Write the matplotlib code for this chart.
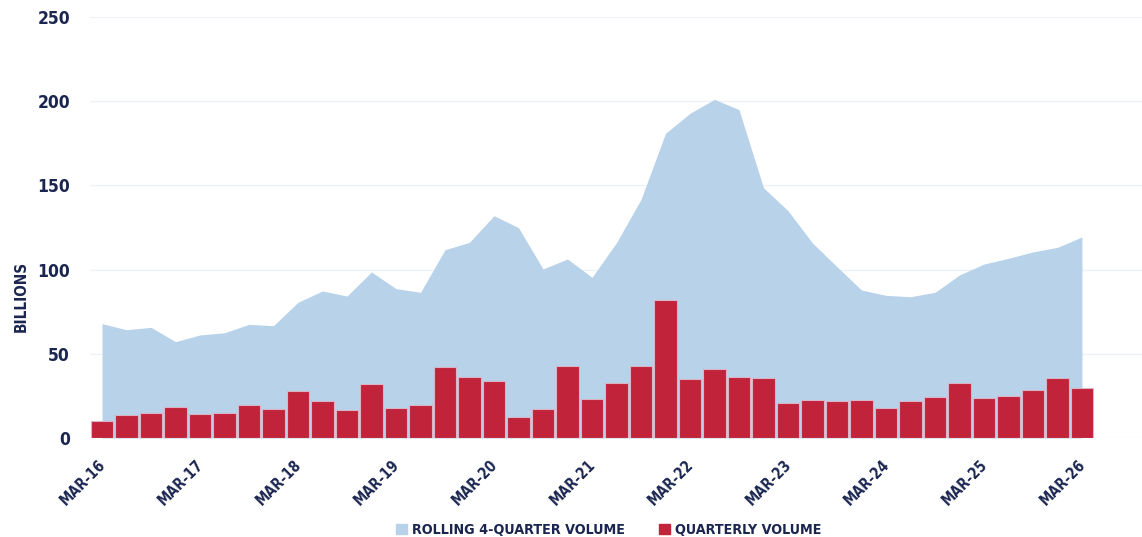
import matplotlib
matplotlib.use("Agg")
import matplotlib.pyplot as plt
import numpy as np
from matplotlib.patches import Patch
from matplotlib.transforms import ScaledTranslation

# quarterly data, MAR-16 .. MAR-26 (41 quarters)
years = [str(y) for y in range(16, 27)]
tick_labels = ["MAR-" + y for y in years]
quarterly = [10.1, 13.5, 14.7, 18.2, 14.1, 15.0, 19.6, 17.4, 27.9, 22.0,
             16.4, 31.9, 17.6, 19.6, 42.0, 36.4, 33.8, 12.5, 17.2, 42.6,
             23.0, 32.7, 42.8, 81.8, 35.0, 41.2, 36.2, 35.6, 20.8, 22.6,
             22.0, 22.6, 17.8, 21.8, 24.3, 32.7, 23.9, 24.9, 28.3, 35.6, 29.9]
rolling = [67.9, 64.3, 65.7, 57.2, 61.2, 62.5, 67.5, 66.7, 80.6, 87.3,
           84.3, 98.6, 88.7, 86.5, 111.8, 116.2, 132.0, 124.9, 100.4, 106.3,
           95.4, 116.0, 141.7, 180.9, 192.8, 201.1, 195.0, 148.6, 135.0, 115.8,
           101.7, 87.9, 84.7, 83.9, 86.5, 96.8, 103.3, 106.7, 110.5, 113.2, 119.4]

NAVY = "#1b2650"
BLUE = "#b8d2ea"
RED = "#c1233a"
plt.rcParams["font.family"] = ["DejaVu Sans"]
plt.rcParams["font.stretch"] = "condensed"
plt.rcParams["font.weight"] = "bold"

x = np.arange(len(quarterly))
fig = plt.figure(figsize=(11.42, 5.37), dpi=100)
ax = fig.add_axes([90 / 1142, 99 / 537, 1 - 90 / 1142, 421 / 537])

ax.fill_between(x, rolling, 0, color=BLUE, lw=0, zorder=1)
ax.bar(x, quarterly, width=0.9, color=RED, edgecolor="#d9b3c6", lw=0.8, zorder=2)

ax.set_xlim(-0.49, 42.45)
ax.set_ylim(0, 250)
ax.set_yticks([0, 50, 100, 150, 200, 250])
ax.grid(axis="y", color="#eef2f8", lw=1, zorder=0)
ax.set_axisbelow(True)
for s in ax.spines.values():
    s.set_visible(False)
ax.tick_params(length=0, labelsize=12.5, colors=NAVY, pad=14.4)
ax.tick_params(axis="x", pad=14)
ax.set_xticks(x[::4])
ax.set_xticklabels(tick_labels, rotation=45, ha="right", va="top",
                   rotation_mode="anchor", fontsize=10.5)
shift = ScaledTranslation(-3 / 72, 0, fig.dpi_scale_trans)
for lab in ax.get_xticklabels():
    lab.set_transform(lab.get_transform() + shift)

fig.text(21 / 1142, 1 - 296 / 537, "BILLIONS", rotation=90, ha="center",
         va="center", color=NAVY, fontsize=11, fontweight="bold")

handles = [Patch(color=BLUE, label="ROLLING 4-QUARTER VOLUME"),
           Patch(color=RED, label="QUARTERLY VOLUME")]
leg = fig.legend(handles=handles, loc="center", bbox_to_anchor=(609 / 1142, 1 - 530 / 537),
                 ncol=2, frameon=False, fontsize=10.3, handlelength=0.75, handleheight=0.75,
                 handletextpad=0.35, columnspacing=2.4)
for t in leg.get_texts():
    t.set_color(NAVY)

fig.savefig("out.png", dpi=100)
